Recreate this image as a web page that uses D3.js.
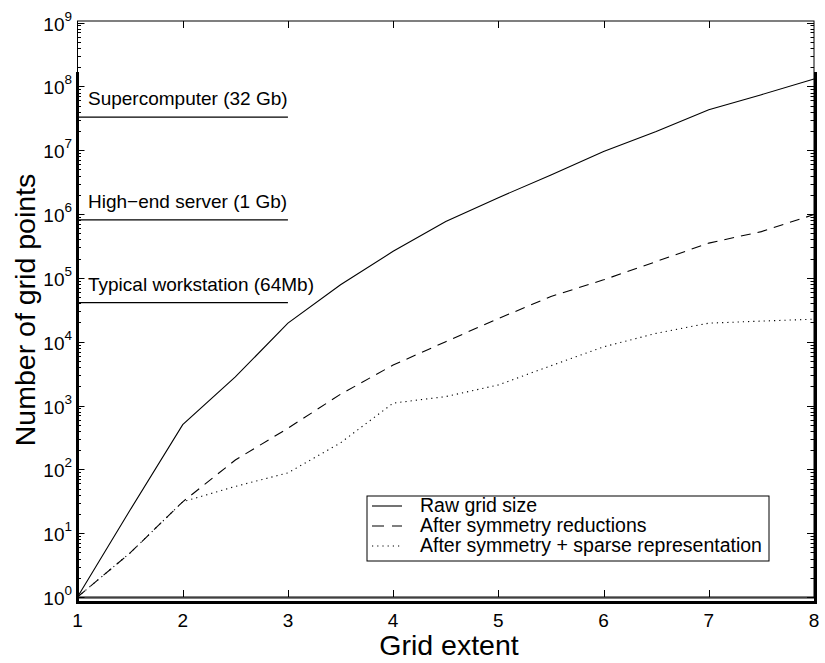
<!DOCTYPE html>
<html>
<head>
<meta charset="utf-8">
<script src="https://cdn.jsdelivr.net/npm/d3@7"></script>
<style>
  body { margin: 0; background: #fff; }
  svg { font-family: "Liberation Sans", Arial, Helvetica, sans-serif; }
</style>
</head>
<body>
<div id="chart"></div>
<script>
// grid extent sampled at half steps
const extent = [1, 1.5, 2, 2.5, 3, 3.5, 4, 4.5, 5, 5.5, 6, 6.5, 7, 7.5, 8];
const rawGrid = [1, 23, 500, 2800, 19500, 78000, 2.6e5, 7.6e5, 1.8e6, 4.1e6, 9.5e6, 1.96e7, 4.3e7, 7.4e7, 1.3e8];
const symGrid = [1, 4.9, 31, 140, 440, 1500, 4300, 1.0e4, 2.3e4, 5.1e4, 9.3e4, 1.8e5, 3.5e5, 5.3e5, 9.8e5];
const sparseGrid = [1, 4.9, 31, 54, 88, 260, 1090, 1380, 2100, 4200, 8300, 1.35e4, 1.95e4, 2.1e4, 2.25e4];

const memoryLabels = ["Supercomputer (32 Gb)", "High\u2212end server (1 Gb)", "Typical workstation (64Mb)"];
const memoryValues = [3.3e7, 8.1e5, 4.1e4];

const legendLabels = ["Raw grid size", "After symmetry reductions", "After symmetry + sparse representation"];
const xTicks = [1, 2, 3, 4, 5, 6, 7, 8];
const yExponents = [0, 1, 2, 3, 4, 5, 6, 7, 8, 9];

const width = 825, height = 663;
const plotLeft = 77.5, plotRight = 814, plotTop = 22.5, plotBottom = 597;

const svg = d3.select("#chart").append("svg")
    .attr("width", width)
    .attr("height", height);

const x = d3.scaleLinear().domain([1, 8]).range([plotLeft, plotRight]);
const y = d3.scaleLog().domain([1, 1e9]).range([plotBottom, plotTop]);

// frame
svg.append("rect")
    .attr("x", plotLeft).attr("y", plotTop - 1.5)
    .attr("width", plotRight - plotLeft).attr("height", plotBottom - plotTop + 1.5)
    .attr("fill", "none").attr("stroke", "#000").attr("stroke-width", 1);

// minor + major y ticks, both sides
const minor = [];
for (let e = 0; e < 9; e++) for (let m = 2; m <= 9; m++) minor.push(m * Math.pow(10, e));

[plotLeft, plotRight].forEach((xp, i) => {
    const dir = i === 0 ? 1 : -1;
    svg.append("g").selectAll("line").data(minor).enter().append("line")
        .attr("x1", xp).attr("x2", xp + dir * 3.5)
        .attr("y1", d => Math.round(y(d)) + 0.5).attr("y2", d => Math.round(y(d)) + 0.5)
        .attr("stroke", "#000").attr("stroke-width", 1);
    svg.append("g").selectAll("line").data(yExponents).enter().append("line")
        .attr("x1", xp).attr("x2", xp + dir * 7)
        .attr("y1", d => Math.round(y(Math.pow(10, d))) + 0.5).attr("y2", d => Math.round(y(Math.pow(10, d))) + 0.5)
        .attr("stroke", "#000").attr("stroke-width", 1);
});

// x ticks, bottom and top
[plotBottom, plotTop - 1.5].forEach((yp, i) => {
    const dir = i === 0 ? -1 : 1;
    svg.append("g").selectAll("line").data(xTicks.slice(1, -1)).enter().append("line")
        .attr("x1", d => Math.round(x(d)) + 0.5).attr("x2", d => Math.round(x(d)) + 0.5)
        .attr("y1", yp).attr("y2", yp + dir * 7)
        .attr("stroke", "#000").attr("stroke-width", 1);
});

// thick axis lines
svg.append("line").attr("x1", plotLeft).attr("x2", plotLeft).attr("y1", 72).attr("y2", 604)
    .attr("stroke", "#000").attr("stroke-width", 3);
svg.append("line").attr("x1", plotRight + 1.5).attr("x2", plotRight + 1.5).attr("y1", 72).attr("y2", 604)
    .attr("stroke", "#000").attr("stroke-width", 3);
svg.append("line").attr("x1", plotLeft).attr("x2", plotRight + 3).attr("y1", 602.5).attr("y2", 602.5)
    .attr("stroke", "#000").attr("stroke-width", 3);

// y tick labels
const yl = svg.append("g").selectAll("text").data(yExponents).enter().append("text")
    .attr("x", 72).attr("y", d => y(Math.pow(10, d)) + 8)
    .attr("text-anchor", "end").attr("font-size", 19);
yl.append("tspan").text("10");
yl.append("tspan").attr("dy", -10).attr("font-size", 13.5).text(d => d);

// x tick labels
svg.append("g").selectAll("text").data(xTicks).enter().append("text")
    .attr("x", d => x(d)).attr("y", 627)
    .attr("text-anchor", "middle").attr("font-size", 19)
    .text(d => d);

// axis titles
svg.append("text").attr("x", 449).attr("y", 655)
    .attr("text-anchor", "middle").attr("font-size", 28.5).text("Grid extent");
svg.append("text").attr("transform", "translate(35,310) rotate(-90)")
    .attr("text-anchor", "middle").attr("font-size", 28.5).text("Number of grid points");

// memory reference lines
svg.append("line").attr("x1", plotLeft).attr("x2", plotRight).attr("y1", y(1) + 1).attr("y2", y(1) + 1)
    .attr("stroke", "#000").attr("stroke-width", 1);
memoryValues.forEach((v, i) => {
    svg.append("line").attr("x1", plotLeft).attr("x2", x(3))
        .attr("y1", y(v)).attr("y2", y(v))
        .attr("stroke", "#000").attr("stroke-width", 1.2);
    svg.append("text").attr("x", 88).attr("y", y(v) - 12)
        .attr("font-size", 19).text(memoryLabels[i]);
});

// series
const series = [rawGrid, symGrid, sparseGrid];
const dashes = [null, "10,7", "1.2,4"];
const line = d3.line().x((d, i) => x(extent[i])).y(d => y(d));
series.forEach((s, i) => {
    svg.append("path").datum(s)
        .attr("d", line)
        .attr("fill", "none").attr("stroke", "#000")
        .attr("stroke-width", 1.1)
        .attr("stroke-dasharray", dashes[i]);
});

// legend
const lg = svg.append("g").attr("transform", "translate(367,496)");
lg.append("rect").attr("width", 402).attr("height", 65)
    .attr("fill", "#fff").attr("stroke", "#000").attr("stroke-width", 1);
legendLabels.forEach((t, i) => {
    const base = 16 + i * 20;
    lg.append("line").attr("x1", 5).attr("x2", 35).attr("y1", base - 6).attr("y2", base - 6)
        .attr("stroke", "#000").attr("stroke-width", 1.1)
        .attr("stroke-dasharray", i === 1 ? "12,8" : dashes[i]);
    lg.append("text").attr("x", 53).attr("y", base)
        .attr("font-size", 19.5).text(t);
});
</script>
</body>
</html>
